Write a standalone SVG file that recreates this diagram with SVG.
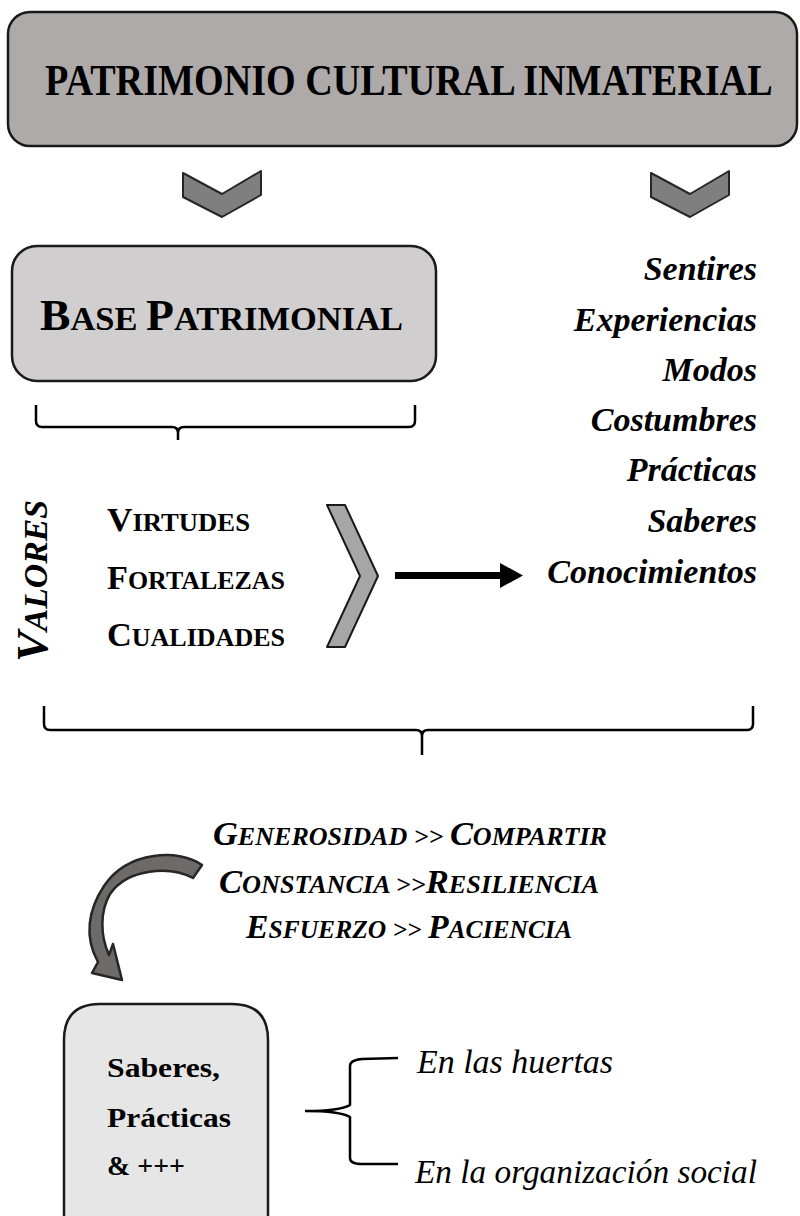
<svg xmlns="http://www.w3.org/2000/svg" width="800" height="1216" viewBox="0 0 800 1216">
<style>
.box{stroke:#1a1a1a;stroke-width:2.5}
.t{font-family:"Liberation Serif",serif;font-weight:bold;fill:#000}
.it{font-style:italic}
.brace{fill:none;stroke:#000;stroke-width:2.5;stroke-linejoin:round}
.chev{fill:#7f7f7f;stroke:#262626;stroke-width:2;stroke-linejoin:round}
.reg{font-family:"Liberation Serif",serif;font-style:italic;fill:#000}
</style>
<rect width="800" height="1216" fill="#fff"/>
<g id="title">
<rect class="box" x="8" y="12" width="789" height="134" rx="22" fill="#aeaaaa"/>
<text class="t" transform="translate(45,95) scale(0.85,1)" x="0" y="0" font-size="44" textLength="856" lengthAdjust="spacingAndGlyphs">PATRIMONIO CULTURAL INMATERIAL</text>
</g>
<g id="connectors">
<polygon class="chev" points="183,173 222,194 261,171 261,195 222,217 183,197"/>
<polygon class="chev" points="651,173 690,194 729,171 729,195 690,217 651,197"/>
<path class="brace" d="M36,405 L36,421 Q36,427 42,427 L172,427 Q178,427 178,433 L178,440 M178,433 Q178,427 184,427 L409,427 Q415,427 415,421 L415,405"/>
<polygon points="327,505 345,505 378,576 345,647 327,647 360,576" fill="#a6a6a6" stroke="#1a1a1a" stroke-width="2" stroke-linejoin="round"/>
<rect x="395" y="572" width="107" height="7" fill="#000"/>
<polygon points="500,563 523,575.5 500,588" fill="#000"/>
<path class="brace" d="M44,706 L44,724 Q44,730 50,730 L416,730 Q422,730 422,736 L422,755 M422,736 Q422,730 428,730 L747,730 Q753,730 753,724 L753,706"/>
<path d="M202,865 C180,849 128,850 104,886 C88,910 84,937 98,962 L92,973 L122,980 L113,944 L109,955 C100,935 100,911 110,894 C128,868 170,866 193,878 Z" fill="#6e6a6a" stroke="#262626" stroke-width="2.5" stroke-linejoin="round"/>
<path class="brace" d="M305,1111 Q340,1111 350,1105 L350,1066 Q350,1060 362,1059 L398,1058 M305,1111 Q340,1111 350,1117 L350,1158 Q350,1164 362,1164 L398,1164"/>
</g>
<g id="base">
<rect class="box" x="12" y="246" width="424" height="135" rx="25" fill="#d0cece"/>
<text class="t" x="40" y="330" textLength="363" lengthAdjust="spacingAndGlyphs"><tspan font-size="45">B</tspan><tspan font-size="34">ASE </tspan><tspan font-size="45">P</tspan><tspan font-size="34">ATRIMONIAL</tspan></text>
</g>
<g id="valores">
<text class="t it" transform="translate(47,662) rotate(-90)" textLength="162" lengthAdjust="spacingAndGlyphs"><tspan font-size="45">V</tspan><tspan font-size="33">ALORES</tspan></text>
<text class="t" x="107" y="531" textLength="143" lengthAdjust="spacingAndGlyphs"><tspan font-size="33">V</tspan><tspan font-size="25">IRTUDES</tspan></text>
<text class="t" x="107" y="589" textLength="178" lengthAdjust="spacingAndGlyphs"><tspan font-size="33">F</tspan><tspan font-size="25">ORTALEZAS</tspan></text>
<text class="t" x="107" y="646" textLength="178" lengthAdjust="spacingAndGlyphs"><tspan font-size="33">C</tspan><tspan font-size="25">UALIDADES</tspan></text>
</g>
<g id="lista" class="t it" font-size="34" text-anchor="end">
<text x="757" y="280">Sentires</text>
<text x="757" y="331">Experiencias</text>
<text x="757" y="381">Modos</text>
<text x="757" y="431">Costumbres</text>
<text x="757" y="481">Prácticas</text>
<text x="757" y="532">Saberes</text>
<text x="757" y="583">Conocimientos</text>
</g>
<g id="valores-pares" class="t it">
<text x="213" y="845" textLength="394" lengthAdjust="spacingAndGlyphs"><tspan font-size="33">G</tspan><tspan font-size="25">ENEROSIDAD &gt;&gt; </tspan><tspan font-size="33">C</tspan><tspan font-size="25">OMPARTIR</tspan></text>
<text x="219" y="893" textLength="380" lengthAdjust="spacingAndGlyphs"><tspan font-size="33">C</tspan><tspan font-size="25">ONSTANCIA &gt;&gt;</tspan><tspan font-size="33">R</tspan><tspan font-size="25">ESILIENCIA</tspan></text>
<text x="246" y="938" textLength="326" lengthAdjust="spacingAndGlyphs"><tspan font-size="33">E</tspan><tspan font-size="25">SFUERZO &gt;&gt; </tspan><tspan font-size="33">P</tspan><tspan font-size="25">ACIENCIA</tspan></text>
</g>
<g id="saberes">
<path class="box" d="M64,1240 L64,1040 Q64,1004 100,1004 L232,1004 Q268,1004 268,1040 L268,1240" fill="#e7e6e6"/>
<text class="t" x="107" y="1077" font-size="27" textLength="113" lengthAdjust="spacingAndGlyphs">Saberes,</text>
<text class="t" x="107" y="1127" font-size="27" textLength="124" lengthAdjust="spacingAndGlyphs">Prácticas</text>
<text class="t" x="107" y="1175" font-size="27" textLength="78" lengthAdjust="spacingAndGlyphs">&amp; +++</text>
</g>
<g id="ambitos">
<text class="reg" x="417" y="1073" font-size="34" textLength="196" lengthAdjust="spacingAndGlyphs">En las huertas</text>
<text class="reg" x="415" y="1183" font-size="34" textLength="342" lengthAdjust="spacingAndGlyphs">En la organización social</text>
</g>
</svg>
